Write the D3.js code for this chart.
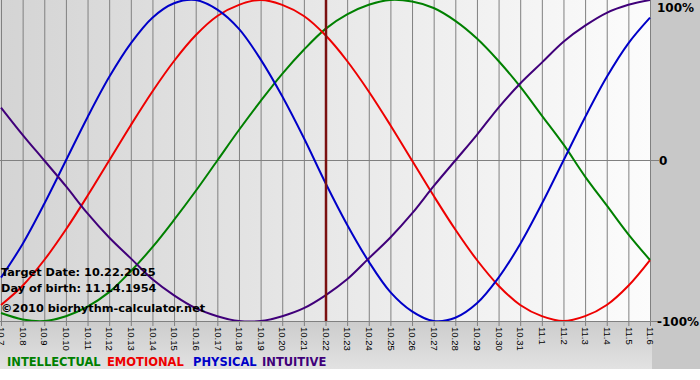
<!DOCTYPE html>
<html lang="en">
<head>
    <meta charset="UTF-8">
    <title>Biorhythm</title>
    <script src="https://d3js.org/d3.v7.min.js"></script>
    <style>
        body { margin: 0; background: #fff; }
        svg { display: block; }
    </style>
</head>
<body>
    <svg id="chart" width="700" height="380"></svg>
    <script>
        // days shown on the x axis
        const dates = ["10.7","10.8","10.9","10.10","10.11","10.12","10.13","10.14","10.15","10.16",
            "10.17","10.18","10.19","10.20","10.21","10.22","10.23","10.24","10.25","10.26",
            "10.27","10.28","10.29","10.30","10.31","11.1","11.2","11.3","11.4","11.5","11.6"];

        // values, -1 .. 1
        const intellectual = [-0.95,-0.99,-1.00,-0.97,-0.91,-0.82,-0.69,-0.54,-0.37,-0.19,
            0,0.19,0.37,0.54,0.69,0.82,0.91,0.97,1.00,0.99,
            0.95,0.87,0.76,0.62,0.46,0.28,0.10,-0.10,-0.28,-0.46,-0.62];
        const emotional = [-0.90,-0.78,-0.62,-0.43,-0.22,0,0.22,0.43,0.62,0.78,
            0.90,0.97,1.00,0.97,0.90,0.78,0.62,0.43,0.22,0,
            -0.22,-0.43,-0.62,-0.78,-0.90,-0.97,-1.00,-0.97,-0.90,-0.78,-0.62];
        const physical = [-0.73,-0.52,-0.27,0,0.27,0.52,0.73,0.89,0.98,1.00,
            0.94,0.82,0.63,0.40,0.14,-0.14,-0.40,-0.63,-0.82,-0.94,
            -1.00,-0.98,-0.89,-0.73,-0.52,-0.27,0,0.27,0.52,0.73,0.89];
        const intuitive = [0.33,0.16,0,-0.16,-0.33,-0.48,-0.61,-0.74,-0.84,-0.92,
            -0.97,-1.00,-1.00,-0.97,-0.92,-0.84,-0.74,-0.61,-0.48,-0.33,
            -0.16,0,0.16,0.33,0.48,0.61,0.74,0.84,0.92,0.97,1.00];

        const seriesNames = ["INTELLECTUAL", "EMOTIONAL", "PHYSICAL", "INTUITIVE"];
        const yTicks = [1, 0, -1];
        const yTickLabels = ["100%", "0", "-100%"];
        const targetDate = "10.22";
        const infoLines = ["Target Date: 10.22.2025", "Day of birth: 11.14.1954", "\u00a92010 biorhythm-calculator.net"];

        const series = [
            {name: seriesNames[0], values: intellectual, color: "#008000"},
            {name: seriesNames[1], values: emotional, color: "#ee0000"},
            {name: seriesNames[2], values: physical, color: "#0000c8"},
            {name: seriesNames[3], values: intuitive, color: "#40007a"}
        ];

        const svg = d3.select("#chart");
        const plotW = 651, plotH = 321;

        const x = d3.scalePoint().domain(dates).range([1, 650]);
        const y = d3.scaleLinear().domain([-1, 1]).range([321, 0]);

        const defs = svg.append("defs");
        const gPlot = defs.append("linearGradient").attr("id", "plotBg");
        gPlot.append("stop").attr("offset", "0%").attr("stop-color", "#d4d4d4");
        gPlot.append("stop").attr("offset", "100%").attr("stop-color", "#fcfcfc");
        const gBand = defs.append("linearGradient").attr("id", "bandBg")
            .attr("x1", 0).attr("y1", 0).attr("x2", 0).attr("y2", 1);
        gBand.append("stop").attr("offset", "0%").attr("stop-color", "#cccccc");
        gBand.append("stop").attr("offset", "100%").attr("stop-color", "#e2e2e2");
        defs.append("clipPath").attr("id", "clip")
            .append("rect").attr("width", plotW).attr("height", plotH);

        // backgrounds
        svg.append("rect").attr("width", 700).attr("height", 369).attr("fill", "#c8c8c8");
        svg.append("rect").attr("y", plotH).attr("width", 652).attr("height", 48).attr("fill", "url(#bandBg)");
        svg.append("rect").attr("width", plotW).attr("height", plotH).attr("fill", "url(#plotBg)");

        // vertical grid and ticks
        svg.append("g").selectAll("line")
            .data(dates)
            .join("line")
                .attr("x1", d => x(d) + 0.5)
                .attr("x2", d => x(d) + 0.5)
                .attr("y1", 0)
                .attr("y2", plotH + 5)
                .attr("stroke", "#808080");

        // horizontal lines at 0 and -100%
        svg.append("g").selectAll("line")
            .data([0, -1])
            .join("line")
                .attr("x1", 0)
                .attr("x2", 659)
                .attr("y1", d => Math.floor(y(d)) + 0.5)
                .attr("y2", d => Math.floor(y(d)) + 0.5)
                .attr("stroke", "#808080");

        // x labels
        svg.append("g").selectAll("text")
            .data(dates)
            .join("text")
                .attr("transform", d => `translate(${x(d) + 0.5},327)rotate(90)`)
                .attr("dy", "0.35em")
                .attr("font-family", "Liberation Sans, Arial, sans-serif")
                .attr("font-size", 9.5)
                .attr("fill", "#000")
                .text(d => d);

        // y labels
        svg.append("g").selectAll("text")
            .data(yTicks)
            .join("text")
                .attr("x", (d, i) => i === 1 ? 659 : 657)
                .attr("y", d => Math.min(Math.max(y(d), 7), 321) + 4.5)
                .attr("font-family", "DejaVu Sans, Verdana, sans-serif")
                .attr("font-weight", "bold")
                .attr("font-size", 12)
                .attr("fill", "#000")
                .text((d, i) => yTickLabels[i]);

        // curves
        const line = d3.line()
            .x((d, i) => x(dates[i]))
            .y(d => y(d))
            .curve(d3.curveCatmullRom);

        const gLines = svg.append("g").attr("clip-path", "url(#clip)");
        gLines.selectAll("path")
            .data(series)
            .join("path")
                .attr("d", d => line(d.values))
                .attr("fill", "none")
                .attr("stroke", d => d.color)
                .attr("stroke-width", 2);

        // target date marker
        svg.append("line")
            .attr("x1", x(targetDate) + 0.5)
            .attr("x2", x(targetDate) + 0.5)
            .attr("y1", 0)
            .attr("y2", plotH)
            .attr("stroke", "#7a1010")
            .attr("stroke-width", 2.5);

        // info text
        svg.append("g").selectAll("text")
            .data(infoLines)
            .join("text")
                .attr("x", 1)
                .attr("y", (d, i) => [276, 292, 312][i])
                .attr("font-family", "DejaVu Sans, Verdana, sans-serif")
                .attr("font-weight", "bold")
                .attr("font-size", 11.3)
                .attr("fill", "#000")
                .text(d => d);

        // legend
        const legendX = [7, 107, 193, 262];
        svg.append("g").selectAll("text")
            .data(series)
            .join("text")
                .attr("x", (d, i) => legendX[i])
                .attr("y", 366)
                .attr("font-family", "DejaVu Sans, Verdana, sans-serif")
                .attr("font-weight", "bold")
                .attr("font-size", 11.5)
                .attr("fill", d => d.color)
                .text(d => d.name);
    </script>
</body>
</html>
